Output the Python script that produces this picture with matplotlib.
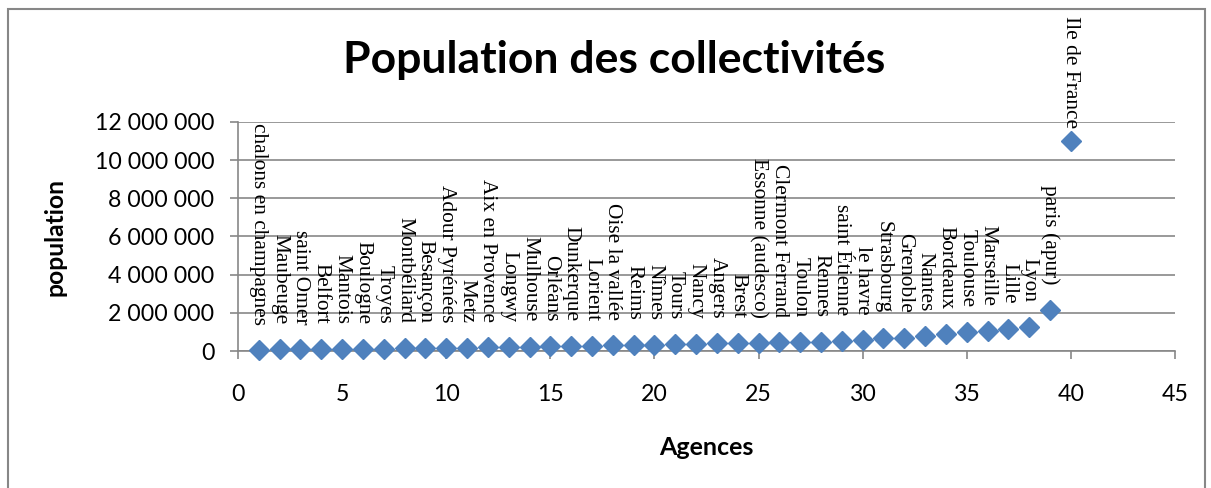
import numpy as np
import matplotlib
matplotlib.use("Agg")
import matplotlib.pyplot as plt
from matplotlib.ticker import FuncFormatter, MultipleLocator
from matplotlib.patches import Rectangle

agences = [
    "chalons en champagnes", "Maubeuge", "saint Omer", "Belfort", "Mantois",
    "Boulogne", "Troyes", "Montbéliard", "Besançon", "Adour Pyrénées",
    "Metz", "Aix en Provence", "Longwy", "Mulhouse", "Orléans",
    "Dunkerque", "Lorient", "Oise la vallée", "Reims", "Nîmes",
    "Tours", "Nancy", "Angers", "Brest", "Essonne (audesco)",
    "Clermont Ferrand", "Toulon", "Rennes", "saint Étienne", "le havre",
    "Strasbourg", "Grenoble", "Nantes", "Bordeaux", "Toulouse",
    "Marseille", "Lille", "Lyon", "paris (apur)", "Ile de France",
]
rang = list(range(1, 41))
population = [
    70000, 80000, 90000, 100000, 110000, 120000, 130000, 140000, 150000, 170000,
    180000, 190000, 200000, 220000, 240000, 260000, 270000, 290000, 310000, 340000,
    370000, 390000, 400000, 410000, 420000, 450000, 470000, 490000, 540000, 590000,
    670000, 680000, 760000, 870000, 1000000, 1050000, 1150000, 1280000, 2150000, 11000000,
]

plt.rcParams["font.family"] = ["Lato", "DejaVu Sans"]

W, H, DPI = 1211, 488, 100
fig = plt.figure(figsize=(W / DPI, H / DPI), dpi=DPI)
fig.patches.append(Rectangle((8 / W, -0.01), (1205 - 8) / W, 1 - 9 / H + 0.01,
                             transform=fig.transFigure, fill=False,
                             edgecolor="#878787", linewidth=1.5))

ax = fig.add_axes([238 / W, 1 - 351 / H, (1175 - 238) / W, (351 - 122) / H])
ax.plot(rang, population, linestyle="none", marker="D", markersize=10.5,
        color="#4F81BD", clip_on=False, zorder=3)

for x, y, name in zip(rang, population, agences):
    # Excel pushes the top label down so it stays inside the chart area
    off = 9 if y > 10000000 else 18
    ax.annotate(name, (x, y), xytext=(0, off), textcoords="offset points",
                rotation=-90, ha="center", va="bottom", fontsize=15.4,
                family="Liberation Serif", color="black", zorder=4,
                annotation_clip=False)

ax.set_xlim(0, 45)
ax.set_ylim(0, 12000000)
ax.xaxis.set_major_locator(MultipleLocator(5))
ax.yaxis.set_major_locator(MultipleLocator(2000000))
ax.yaxis.set_major_formatter(FuncFormatter(lambda v, p: f"{int(v):,}".replace(",", " ")))
ax.grid(axis="y", color="#878787", linewidth=1.2)
ax.set_axisbelow(True)
for s in ["top", "right"]:
    ax.spines[s].set_visible(False)
for s in ["left", "bottom"]:
    ax.spines[s].set_color("#878787")
    ax.spines[s].set_linewidth(1.2)
ax.tick_params(axis="both", colors="#878787", length=6, width=1.2, labelsize=16.7,
               labelcolor="black")
ax.tick_params(axis="x", pad=18)
ax.tick_params(axis="y", pad=11)

ax.set_xlabel("Agences", fontsize=18, fontweight="bold", labelpad=22)
ax.set_ylabel("population", fontsize=17.7, fontweight="bold", labelpad=20)
fig.text(614 / W, 1 - 60 / H, "Population des collectivités", ha="center",
         va="center", fontsize=32, fontweight="bold")

fig.savefig("out.png", dpi=DPI)
